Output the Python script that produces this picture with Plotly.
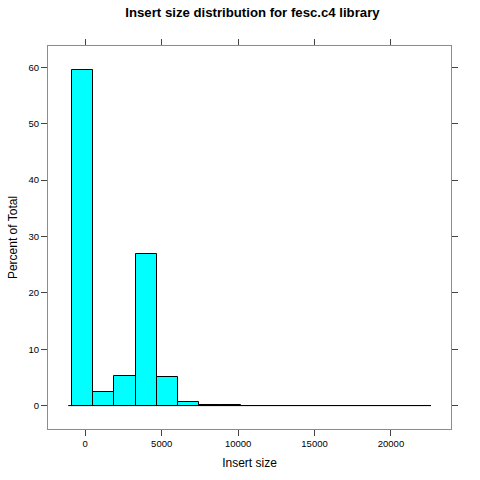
import plotly.graph_objects as go

# histogram of insert sizes (lattice style)
bin_edges = [-850, 530, 1910, 3290, 4670, 6050, 7430, 8810, 10190, 11570,
             12950, 14330, 15710, 17090, 18470, 19850, 21230, 22610]
percent = [59.6, 2.5, 5.2, 26.9, 5.0, 0.6, 0.18, 0.04, 0, 0,
           0, 0, 0, 0, 0, 0, 0]
baseline_x = [-1120, 22620]

x_ticks = [0, 5000, 10000, 15000, 20000]
x_labels = ['0', '5000', '10000', '15000', '20000']
y_ticks = [0, 10, 20, 30, 40, 50, 60]

centers = [(a + b) / 2 for a, b in zip(bin_edges[:-1], bin_edges[1:])]
widths = [b - a for a, b in zip(bin_edges[:-1], bin_edges[1:])]

fig = go.Figure()
fig.add_trace(go.Bar(
    x=centers,
    y=percent,
    width=widths,
    marker=dict(color='#00FFFF', line=dict(color='black', width=1)),
    showlegend=False
))
# zero-height bars in lattice leave a black rule along y = 0
fig.add_trace(go.Scatter(
    x=baseline_x,
    y=[0, 0],
    mode='lines',
    line=dict(color='black', width=1),
    showlegend=False,
    hoverinfo='skip'
))

axis_common = dict(
    showgrid=False,
    zeroline=False,
    showline=True,
    linecolor='#8c8c8c',
    linewidth=1,
    mirror='ticks',
    ticks='outside',
    ticklen=6,
    tickcolor='#444444',
    automargin=False,
    tickfont=dict(family='Liberation Sans', size=9.5, color='black'),
)

fig.update_layout(
    width=480,
    height=480,
    margin=dict(l=48, r=29, t=46, b=51, autoexpand=False),
    plot_bgcolor='white',
    paper_bgcolor='white',
    bargap=0,
    title=dict(
        text='<b>Insert size distribution for fesc.c4 library</b>',
        font=dict(family='Liberation Sans', size=13.2, color='black'),
        x=0.526,
        xanchor='center',
        y=0.975,
        yanchor='middle',
        automargin=False
    ),
    xaxis=dict(
        range=[-2437, 23928],
        tickvals=x_ticks,
        ticktext=x_labels,
        title=dict(text='Insert size', standoff=10,
                   font=dict(family='Liberation Sans', size=12, color='black')),
        **axis_common
    ),
    yaxis=dict(
        range=[-4.15, 63.78],
        tickvals=y_ticks,
        title=dict(text='Percent of Total', standoff=8,
                   font=dict(family='Liberation Sans', size=12, color='black')),
        **axis_common
    ),
)

# drop the browser's default page margin so the figure sits at (0, 0)
fig.write_html("out.html", config={'displayModeBar': False},
               post_script="document.body.style.margin='0';")
